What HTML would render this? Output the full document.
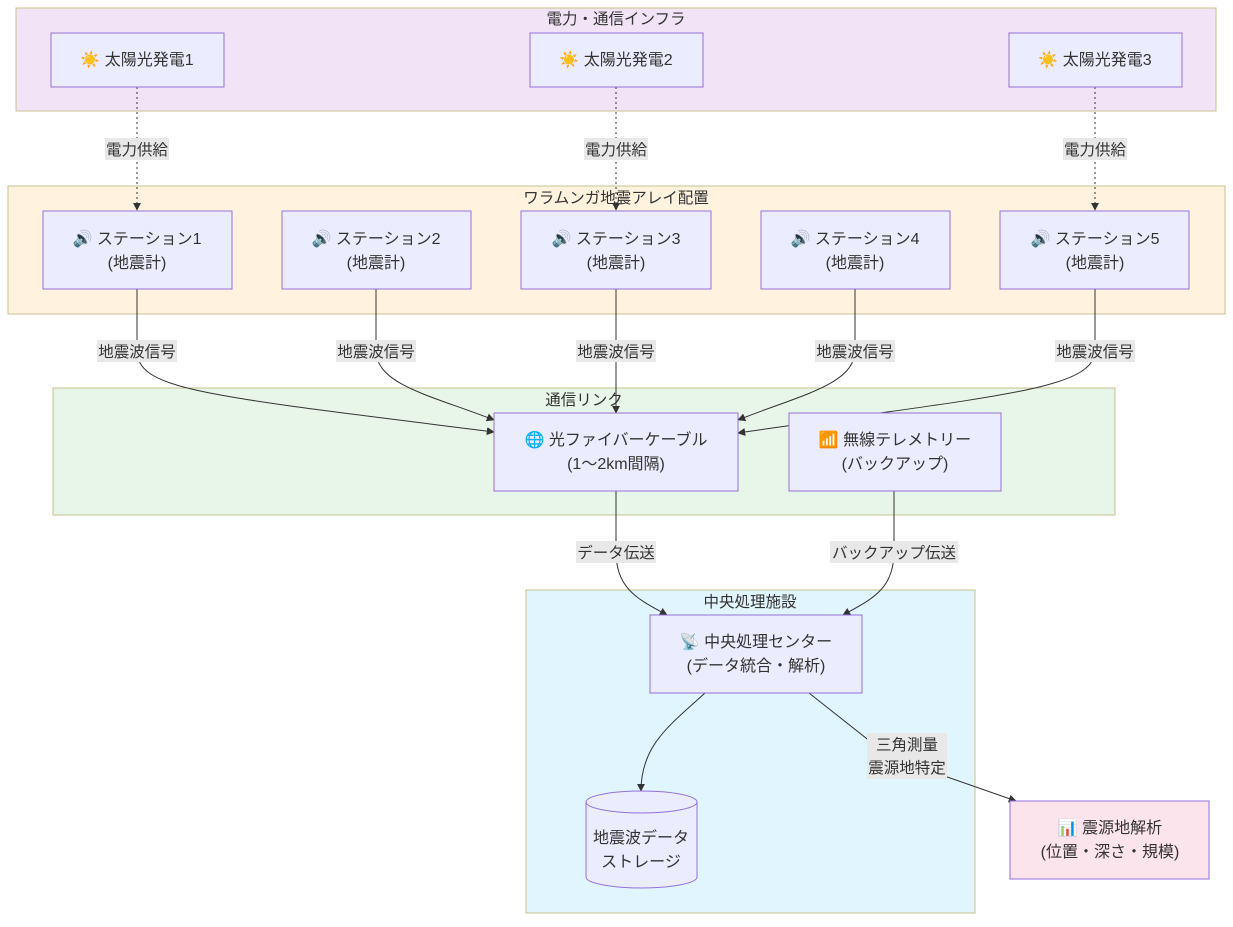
<!DOCTYPE html>
<html><head><meta charset="utf-8"><style>
body{margin:0;background:#fff;}
svg text{font-family:"Liberation Sans","Noto Sans CJK JP",sans-serif;fill:#333;}
</style></head><body>
<svg width="1233" height="922" viewBox="0 0 1233 922" xmlns="http://www.w3.org/2000/svg">
<defs><marker id="a" viewBox="0 0 10 10" refX="9" refY="5" markerWidth="8" markerHeight="8" orient="auto"><path d="M0,0L10,5L0,10z" fill="#333"/></marker></defs>
<g stroke="#c9c28f" stroke-width="1">
<rect x="16" y="8" width="1200" height="103" fill="#f2e4f6"/>
<rect x="8" y="186" width="1217" height="128" fill="#fff3e0"/>
<rect x="53" y="388" width="1062" height="127" fill="#e8f5e9"/>
<rect x="526" y="590" width="449" height="323" fill="#e1f5fe"/>
</g>
<g font-size="15.5" text-anchor="middle">
<text x="616" y="24">電力・通信インフラ</text>
<text x="616" y="203">ワラムンガ地震アレイ配置</text>
<text x="584" y="405">通信リンク</text>
<text x="750" y="607">中央処理施設</text>
</g>
<g fill="none" stroke="#333" stroke-width="1">
<g stroke-dasharray="2,3" marker-end="url(#a)">
<path d="M137,87V210"/><path d="M616,87V210"/><path d="M1095,87V210"/>
</g>
<g marker-end="url(#a)">
<path d="M137,289V350C137,390 200,395 494,432"/>
<path d="M376,289V350C376,385 430,395 494,420"/>
<path d="M616,289V413"/>
<path d="M855,289V350C855,385 800,395 738,420"/>
<path d="M1095,289V350C1095,390 1000,395 738,433"/>
<path d="M616,491V552C616,590 640,600 667,615"/>
<path d="M894,491V552C894,590 870,600 843,615"/>
<path d="M705,693C670,725 641,745 641,791"/>
<path d="M809,693L890,757L1016,801"/>
</g>
</g>
<g font-size="15.5" text-anchor="middle">
<g fill="#e8e8e8">
<rect x="105" y="138" width="64" height="22"/><rect x="584" y="138" width="64" height="22"/><rect x="1063" y="138" width="64" height="22"/>
<rect x="97" y="340" width="80" height="22"/><rect x="336" y="340" width="80" height="22"/><rect x="576" y="340" width="80" height="22"/><rect x="815" y="340" width="80" height="22"/><rect x="1055" y="340" width="80" height="22"/>
<rect x="576" y="541" width="80" height="22"/><rect x="830" y="541" width="128" height="22"/>
<rect x="867" y="733" width="80" height="46"/>
</g>
<text x="137" y="155">電力供給</text><text x="616" y="155">電力供給</text><text x="1095" y="155">電力供給</text>
<text x="137" y="357">地震波信号</text><text x="376" y="357">地震波信号</text><text x="616" y="357">地震波信号</text><text x="855" y="357">地震波信号</text><text x="1095" y="357">地震波信号</text>
<text x="616" y="558">データ伝送</text><text x="894" y="558">バックアップ伝送</text>
<text x="907" y="750">三角測量</text><text x="907" y="773">震源地特定</text>
</g>
<g fill="#ececff" stroke="#9370db" stroke-width="1">
<rect x="51" y="33" width="173" height="54"/><rect x="530" y="33" width="173" height="54"/><rect x="1009" y="33" width="173" height="54"/>
<rect x="43" y="211" width="189" height="78"/><rect x="282" y="211" width="189" height="78"/><rect x="521" y="211" width="190" height="78"/><rect x="761" y="211" width="189" height="78"/><rect x="1000" y="211" width="189" height="78"/>
<rect x="494" y="413" width="244" height="78"/><rect x="789" y="413" width="212" height="78"/>
<rect x="650" y="615" width="212" height="78"/>
<path d="M586,802A55.5,11 0 0 1 697,802V877A55.5,11 0 0 1 586,877Z"/>
<path d="M586,802A55.5,11 0 0 0 697,802" fill="none"/>
<rect x="1010" y="801" width="199" height="78" fill="#fce4ec"/>
</g>
<g font-size="16" text-anchor="middle">
<text x="137" y="65">☀️ 太陽光発電1</text><text x="616" y="65">☀️ 太陽光発電2</text><text x="1095" y="65">☀️ 太陽光発電3</text>
<text x="137" y="244">🔊 ステーション1</text><text x="137" y="268">(地震計)</text>
<text x="376" y="244">🔊 ステーション2</text><text x="376" y="268">(地震計)</text>
<text x="616" y="244">🔊 ステーション3</text><text x="616" y="268">(地震計)</text>
<text x="855" y="244">🔊 ステーション4</text><text x="855" y="268">(地震計)</text>
<text x="1095" y="244">🔊 ステーション5</text><text x="1095" y="268">(地震計)</text>
<text x="616" y="445">🌐 光ファイバーケーブル</text><text x="616" y="469">(1～2km間隔)</text>
<text x="895" y="445">📶 無線テレメトリー</text><text x="895" y="469">(バックアップ)</text>
<text x="756" y="647">📡 中央処理センター</text><text x="756" y="671">(データ統合・解析)</text>
<text x="641" y="843">地震波データ</text><text x="641" y="867">ストレージ</text>
<text x="1110" y="833">📊 震源地解析</text><text x="1110" y="857">(位置・深さ・規模)</text>
</g>
</svg>
</body></html>
